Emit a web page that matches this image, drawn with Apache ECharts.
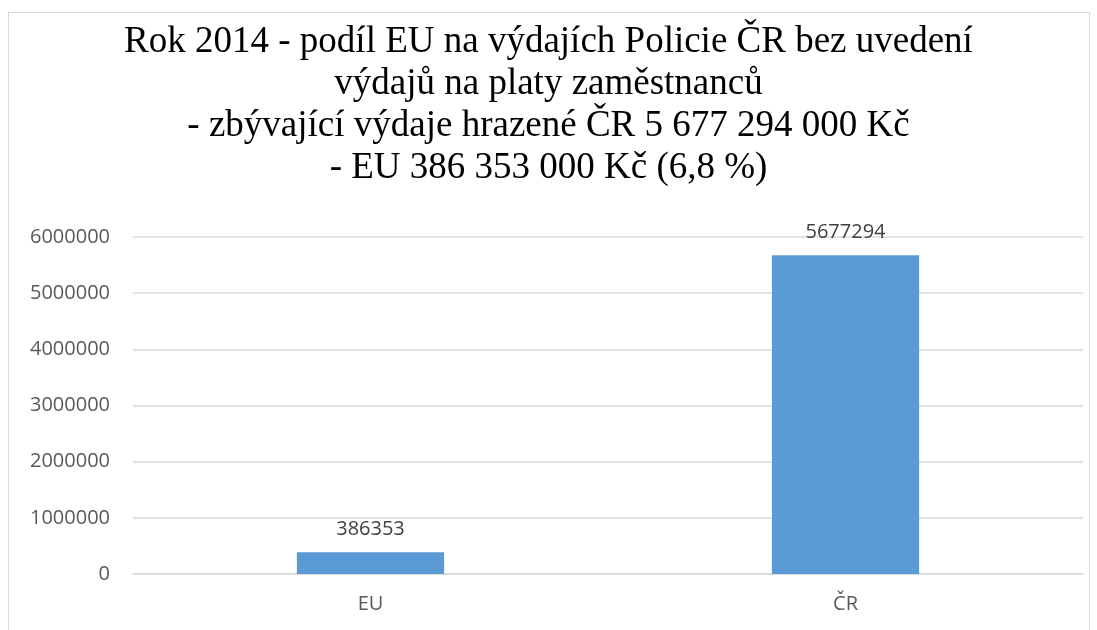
<!DOCTYPE html>
<html>
<head>
<meta charset="utf-8">
<script src="https://cdn.jsdelivr.net/npm/echarts@6/dist/echarts.min.js"></script>
<style>
  html, body { margin: 0; padding: 0; background: #fff; }
  #frame { position: absolute; left: 8px; top: 12px; width: 1082px; height: 640px; border: 1px solid #d9d9d9; box-sizing: border-box; }
  #chart { position: absolute; left: 0; top: 0; width: 1097px; height: 630px; }
</style>
</head>
<body>
<div id="frame"></div>
<div id="chart"></div>
<script>
// data
const categories = ['EU', 'ČR'];
const values = [386353, 5677294];
const yTicks = [0, 1000000, 2000000, 3000000, 4000000, 5000000, 6000000];

const titleLines = [
    'Rok 2014 - podíl EU na výdajích Policie ČR bez uvedení',
    'výdajů na platy zaměstnanců',
    '- zbývající výdaje hrazené ČR 5 677 294 000 Kč',
    '- EU 386 353 000 Kč (6,8 %)'
];

const sans = '"Open Sans", sans-serif';

let chart = echarts.init(document.getElementById('chart'), null, { renderer: 'canvas' });

chart.setOption({
    animation: false,
    title: {
        text: titleLines.join('\n'),
        left: 'center',
        top: 16,
        textStyle: {
            fontFamily: '"Liberation Serif", "Times New Roman", serif',
            fontSize: 37,
            fontWeight: 'normal',
            color: '#000',
            lineHeight: 42
        }
    },
    grid: { left: 133, right: 14, top: 237, bottom: 56, containLabel: false },
    xAxis: {
        type: 'category',
        data: categories,
        axisLine: { lineStyle: { color: '#d9d9d9', width: 1.5 } },
        axisTick: { show: false },
        axisLabel: { color: '#595959', fontSize: 20, fontFamily: sans, margin: 20 }
    },
    yAxis: {
        type: 'value',
        min: yTicks[0],
        max: yTicks[yTicks.length - 1],
        interval: 1000000,
        axisLine: { show: false },
        axisTick: { show: false },
        splitLine: { lineStyle: { color: '#d9d9d9', width: 1.5 } },
        axisLabel: {
            color: '#595959', fontSize: 20, fontFamily: sans, margin: 23,
            formatter: function(v){ return String(v); }
        }
    },
    series: [{
        type: 'bar',
        data: values,
        barWidth: '31%',
        itemStyle: { color: '#5b9bd5' },
        label: {
            show: true,
            position: 'top',
            distance: 13,
            color: '#404040',
            fontSize: 20,
            fontFamily: sans,
            formatter: function(p){ return String(p.value); }
        }
    }]
});
</script>
</body>
</html>
